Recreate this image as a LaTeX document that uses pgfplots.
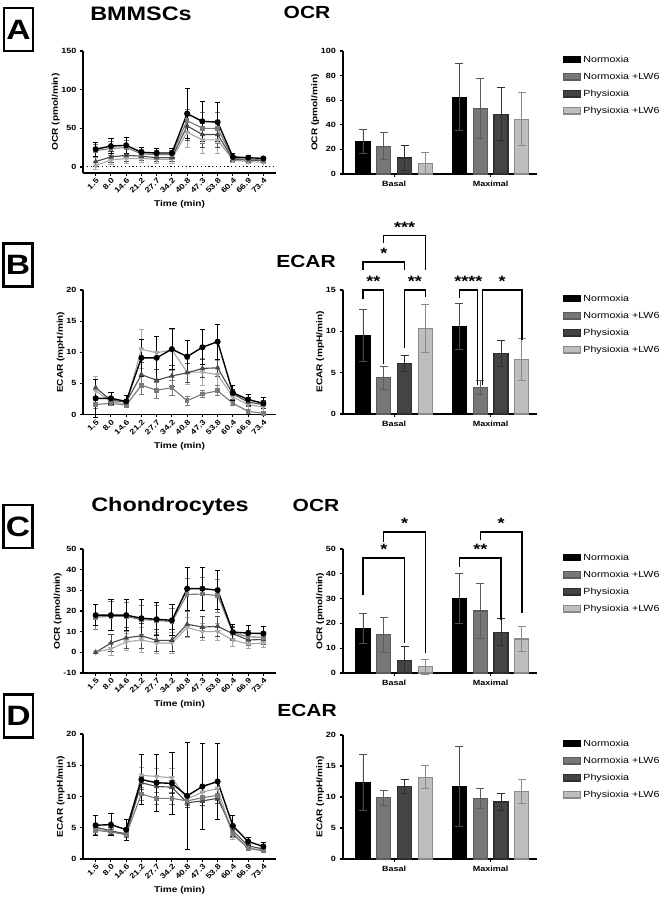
\documentclass[border=0pt]{standalone}
\usepackage{fontspec}
\setmainfont{Liberation Sans}[FakeStretch=1.2]
\usepackage{pgfplots}
\usepackage{pgfplotstable}
\pgfplotsset{compat=1.18}

\definecolor{cNL}{HTML}{777777}
\definecolor{cNLd}{HTML}{5C5C5C}
\definecolor{cP}{HTML}{444444}
\definecolor{cPd}{HTML}{2E2E2E}
\definecolor{cPL}{HTML}{BEBEBE}
\definecolor{cPLd}{HTML}{8A8A8A}
\definecolor{kNL}{HTML}{7A7A7A}
\definecolor{kP}{HTML}{4A4A4A}
\definecolor{kPL}{HTML}{A8A8A8}

% ---------- line chart data ----------
\pgfplotstableread{
x N Ne NL NLe P Pe PL PLe
0 23 9 21 8 7 6 2 5
1 27 10 24 9 13 7 9 6
2 28 10 25 9 15 8 11 7
3 19 6 17 6 14 5 11 5
4 18 6 16 5 12 5 10 5
5 18 6 16 5 12 5 10 5
6 69 32 60 15 53 18 45 20
7 59 26 50 20 42 17 35 17
8 58 25 50 20 42 17 35 17
9 13 4 11 3 10 3 9 3
10 12 3 10 3 9 3 7 3
11 11 2 9 2 8 2 6 2
}\lineA
\pgfplotstableread{
x N Ne NL NLe P Pe PL PLe
0 2.6 3.0 1.6 0.6 4.3 1.4 3.8 2.3
1 2.6 0.9 1.8 0.3 2.3 0.4 2.1 0.5
2 2.1 1.0 1.5 0.3 2.0 0.5 1.7 0.5
3 9.1 3.0 4.7 1.5 6.4 2.0 10.5 3.1
4 9.1 3.4 3.9 1.3 5.5 1.8 9.9 2.6
5 10.5 3.3 4.3 1.2 6.2 1.7 10.4 3.3
6 9.3 2.6 2.2 0.7 6.7 1.5 6.8 2.0
7 10.8 2.8 3.3 0.6 7.4 1.5 6.8 2.2
8 11.7 2.8 3.8 0.8 7.5 1.4 6.4 2.3
9 3.5 1.2 1.8 0.4 3.3 0.8 2.8 1.0
10 2.4 0.9 0.5 0.3 2.0 0.7 1.6 0.8
11 1.8 0.9 0.2 0.3 1.6 0.6 1.2 0.8
}\lineB
\pgfplotstableread{
x N Ne NL NLe P Pe PL PLe
0 18 5 17 6 0 0.5 0 0.5
1 18 7.5 17.5 7 4.5 4 1.7 3
2 18 7.5 17.3 7 7 5 5 4
3 16.5 9 15.8 7 8 6 6 6
4 16 8 15.5 7 5.8 5.5 4.5 5
5 15.5 7.5 14.8 6.5 5.8 5.5 4.5 5
6 30.8 10.5 28 8 13.6 6 12 5
7 30.8 10.5 28.2 8 12.2 5 10 4
8 30.1 9.5 27.5 8 12.6 5 10 4
9 9.8 3.5 9.5 3 9 3 6 3
10 9.3 3.5 7.5 3 6 2.5 4 2
11 9.1 3.5 7.3 2.5 6.2 2.5 4.5 2
}\lineC
\pgfplotstableread{
x N Ne NL NLe P Pe PL PLe
0 5.4 1.6 4.6 0.6 5.1 0.6 4.8 0.6
1 5.5 1.8 4.3 0.5 4.5 0.5 4.4 0.5
2 4.7 1.7 3.9 0.5 4.0 0.5 4.1 0.5
3 12.7 4.0 10.4 1.0 12.2 1.0 13.4 1.2
4 12.2 4.6 9.7 1.0 11.6 1.0 13.2 1.3
5 12.1 5.0 9.7 1.0 11.5 1.0 13.0 1.5
6 10.1 8.6 9.3 0.8 9.0 0.8 9.6 0.8
7 11.6 6.9 9.8 0.8 9.3 0.8 10.7 1.0
8 12.4 6.1 10.2 0.9 9.7 0.8 11.3 1.3
9 5.3 1.7 4.1 0.6 4.5 0.6 3.8 0.7
10 2.8 0.6 1.7 0.3 2.1 0.3 1.8 0.3
11 2.0 0.7 1.3 0.3 1.6 0.3 1.4 0.3
}\lineD
% ---------- bar chart data ----------
\pgfplotstableread{
x N Ne NL NLe P Pe PL PLe
0 26.5 9.5 22.5 11 13 10.5 8.5 9
1 62.5 27 53 24.5 48.5 21.5 44.5 21.5
}\barA
\pgfplotstableread{
x N Ne NL NLe P Pe PL PLe
0 9.5 3.2 4.4 1.4 6.1 1.0 10.3 2.9
1 10.6 2.8 3.2 0.8 7.3 1.6 6.6 2.5
}\barB
\pgfplotstableread{
x N Ne NL NLe P Pe PL PLe
0 18 6.2 15.4 7.2 5.2 5.5 2.5 2.9
1 30.2 10.1 25 11 16.4 5.4 13.7 5.2
}\barC
\pgfplotstableread{
x N Ne NL NLe P Pe PL PLe
0 12.3 4.5 9.9 1.2 11.7 1.2 13.2 1.9
1 11.7 6.4 9.8 1.6 9.2 1.4 10.9 1.9
}\barD

\pgfplotsset{
  common/.style={
    scale only axis, anchor=south west, clip=false,
    axis x line*=bottom, axis y line*=left,
    tick align=outside, major tick length=3pt,
    every tick/.style={black, line width=1.1pt},
    axis line style={line width=1.3pt},
    ticklabel style={font=\bfseries\fontsize{7.5}{8}\selectfont},
    label style={font=\bfseries\fontsize{8.4}{9}\selectfont},
    ylabel shift=-5pt,
    /pgf/number format/assume math mode=true,
  },
  lineaxis/.style={common, width=193pt,
    xmin=-0.833, xmax=11.83, xtick={0,...,11},
    xticklabels={1.5,8.0,14.6,21.2,27.7,34.2,40.8,47.3,53.8,60.4,66.9,73.4},
    x tick label style={rotate=45, anchor=north east, inner sep=1pt},
    xlabel={Time (min)}, xlabel shift=2pt,
  },
  baraxis/.style={common, width=194pt, ybar, bar width=14pt,
    xmin=-0.53, xmax=1.48, xtick={0,1}, xticklabels={Basal,Maximal},
    major tick length=3.5pt,
    legend image code/.code={\draw[##1] (0pt,-3.2pt) rectangle (17pt,3.2pt);},
    legend style={at={(1.134,1)}, anchor=north west, yshift=-2.5pt, draw=none, fill=none,
      inner sep=0pt, font=\fontsize{8.9}{10}\selectfont, row sep=5.1pt},
    legend cell align=left,
  },
  errL/.style={error bars/.cd, y dir=both, y explicit,
    error bar style={line width=0.8pt,#1},
    error mark options={rotate=90,mark size=2.6pt,line width=0.8pt,#1}},
  errB/.style={error bars/.cd, y dir=both, y explicit,
    error bar style={line width=0.9pt,#1},
    error mark options={rotate=90,mark size=4pt,line width=0.9pt,#1}},
  sN/.style={black, line width=1.4pt, mark=*, mark size=2.3pt, mark options={solid}, errL=black},
  sNL/.style={kNL, line width=1.1pt, mark=square*, mark size=1.8pt, mark options={solid}, errL=kNL},
  sP/.style={kP, line width=1.1pt, mark=triangle*, mark size=2.2pt, mark options={solid}, errL=kP},
  sPL/.style={kPL, line width=1.1pt, mark=triangle*, mark size=2.2pt, mark options={solid,rotate=180}, errL=kPL},
  bN/.style={fill=black, draw=black, line width=1.2pt, bar shift=-31.2pt, forget plot, errB=black!70},
  bNL/.style={fill=cNL, draw=cNLd, line width=1.2pt, bar shift=-10.4pt, forget plot, errB=cNLd},
  bP/.style={fill=cP, draw=cPd, line width=1.2pt, bar shift=10.4pt, forget plot, errB=cPd},
  bPL/.style={fill=cPL, draw=cPLd, line width=1.2pt, bar shift=31.2pt, forget plot, errB=cPLd},
}
\newcommand{\barplots}[1]{%
  \addplot[bN] table[x=x,y=N,y error=Ne]{#1};
  \addplot[bNL] table[x=x,y=NL,y error=NLe]{#1};
  \addplot[bP] table[x=x,y=P,y error=Pe]{#1};
  \addplot[bPL] table[x=x,y=PL,y error=PLe]{#1};
  \addlegendimage{fill=black,draw=black,line width=1.2pt}\addlegendentry{Normoxia}
  \addlegendimage{fill=cNL,draw=cNLd,line width=1.2pt}\addlegendentry{Normoxia +LW6}
  \addlegendimage{fill=cP,draw=cPd,line width=1.2pt}\addlegendentry{Physioxia}
  \addlegendimage{fill=cPL,draw=cPLd,line width=1.2pt}\addlegendentry{Physioxia +LW6}
}
\newcommand{\lineplots}[1]{%
  \addplot[sPL] table[x=x,y=PL,y error=PLe]{#1};
  \addplot[sP] table[x=x,y=P,y error=Pe]{#1};
  \addplot[sNL] table[x=x,y=NL,y error=NLe]{#1};
  \addplot[sN] table[x=x,y=N,y error=Ne]{#1};
}
\tikzset{
  plab/.style={draw, line width=2.4pt, font=\bfseries\fontsize{28}{28}\selectfont, inner sep=0pt, minimum width=29pt, minimum height=43pt},
  bigt/.style={anchor=base, font=\bfseries\fontsize{19.5}{20}\selectfont},
  midt/.style={anchor=base, font=\bfseries\fontsize{17.5}{18}\selectfont},
  brk/.style={line width=1.3pt},
  star/.style={anchor=base, yshift=3pt, inner sep=0pt, font=\bfseries\fontsize{15}{15}\selectfont},
}

\begin{document}
\begin{tikzpicture}
\useasboundingbox (0pt,0pt) rectangle (660pt,902pt);
% panel letters and titles
\node[plab] at (18.5pt,872.5pt) {A};
\node[plab] at (18pt,637pt) {B};
\node[plab] at (18pt,375.5pt) {C};
\node[plab] at (18.5pt,186pt) {D};
\node[bigt] at (141pt,881pt) {BMMSCs};
\node[midt] at (307pt,883.7pt) {OCR};
\node[midt] at (306pt,634.7pt) {ECAR};
\node[bigt] at (170pt,390pt) {Chondrocytes};
\node[midt] at (316pt,390.7pt) {OCR};
\node[midt] at (307pt,185.7pt) {ECAR};

% ===== A =====
\begin{axis}[lineaxis, at={(83pt,729pt)}, height=122pt, ymin=-7.8, ymax=150,
  ytick={0,50,100,150}, ylabel={OCR (pmol/min)}]
  \draw[line width=1pt, dash pattern=on 1.2pt off 2.6pt] (axis cs:-0.833,0) -- (axis cs:11.83,0);
  \lineplots{\lineA}
\end{axis}
\begin{axis}[baraxis, at={(343pt,728pt)}, height=123pt, ymin=0, ymax=100,
  ytick={0,20,...,100}, ylabel={OCR (pmol/min)}]
  \barplots{\barA}
\end{axis}

% ===== B =====
\begin{axis}[lineaxis, at={(83pt,487.5pt)}, height=124.5pt, ymin=0, ymax=20,
  ytick={0,5,...,20}, ylabel={ECAR (mpH/min)}]
  \lineplots{\lineB}
\end{axis}
\begin{axis}[baraxis, at={(343pt,488pt)}, height=124pt, ymin=0, ymax=15,
  ytick={0,5,10,15}, ylabel={ECAR (mpH/min)}]
  \barplots{\barB}
  \draw[brk] (axis cs:-0.3233,13.9) -- (axis cs:-0.3233,15) -- (axis cs:-0.1078,15) -- (axis cs:-0.1078,6.0);
  \node[star] at (axis cs:-0.2156,15) {**};
  \draw[brk] (axis cs:0.1078,8.0) -- (axis cs:0.1078,15) -- (axis cs:0.3233,15) -- (axis cs:0.3233,14.1);
  \node[star] at (axis cs:0.2156,15) {**};
  \draw[brk] (axis cs:-0.3233,17.4) -- (axis cs:-0.3233,18.4) -- (axis cs:0.1078,18.4) -- (axis cs:0.1078,17.4);
  \node[star] at (axis cs:-0.1078,18.4) {*};
  \draw[brk] (axis cs:-0.1078,20.7) -- (axis cs:-0.1078,21.6) -- (axis cs:0.3233,21.6) -- (axis cs:0.3233,17.4);
  \node[star] at (axis cs:0.1078,21.6) {***};
  \draw[brk] (axis cs:0.6767,14.0) -- (axis cs:0.6767,15) -- (axis cs:0.861,15) -- (axis cs:0.861,3.5);
  \node[star] at (axis cs:0.769,15) {****};
  \draw[brk] (axis cs:0.912,3.5) -- (axis cs:0.912,15) -- (axis cs:1.3233,15) -- (axis cs:1.3233,9.0);
  \node[star] at (axis cs:1.118,15) {*};
\end{axis}

% ===== C =====
\begin{axis}[lineaxis, at={(83pt,229pt)}, height=124pt, ymin=-10, ymax=50,
  ytick={-10,0,...,50}, ylabel={OCR (pmol/min)}]
  \lineplots{\lineC}
\end{axis}
\begin{axis}[baraxis, at={(343pt,229pt)}, height=124pt, ymin=0, ymax=50,
  ytick={0,10,...,50}, ylabel={OCR (pmol/min)}]
  \barplots{\barC}
  \draw[brk] (axis cs:-0.3233,31.5) -- (axis cs:-0.3233,46.4) -- (axis cs:0.1078,46.4) -- (axis cs:0.1078,12);
  \node[star] at (axis cs:-0.1078,46.4) {*};
  \draw[brk] (axis cs:-0.1078,52.8) -- (axis cs:-0.1078,56.9) -- (axis cs:0.3233,56.9) -- (axis cs:0.3233,8);
  \node[star] at (axis cs:0.1078,56.9) {*};
  \draw[brk] (axis cs:0.6767,42.7) -- (axis cs:0.6767,46.4) -- (axis cs:1.1078,46.4) -- (axis cs:1.1078,21.4);
  \node[star] at (axis cs:0.8922,46.4) {**};
  \draw[brk] (axis cs:0.8922,53.6) -- (axis cs:0.8922,56.9) -- (axis cs:1.3233,56.9) -- (axis cs:1.3233,24);
  \node[star] at (axis cs:1.1078,56.9) {*};
\end{axis}

% ===== D =====
\begin{axis}[lineaxis, at={(83pt,43pt)}, height=125pt, ymin=0, ymax=20,
  ytick={0,5,...,20}, ylabel={ECAR (mpH/min)}]
  \lineplots{\lineD}
\end{axis}
\begin{axis}[baraxis, at={(343pt,43pt)}, height=124pt, ymin=0, ymax=20,
  ytick={0,5,...,20}, ylabel={ECAR (mpH/min)}]
  \barplots{\barD}
\end{axis}
\end{tikzpicture}
\end{document}
